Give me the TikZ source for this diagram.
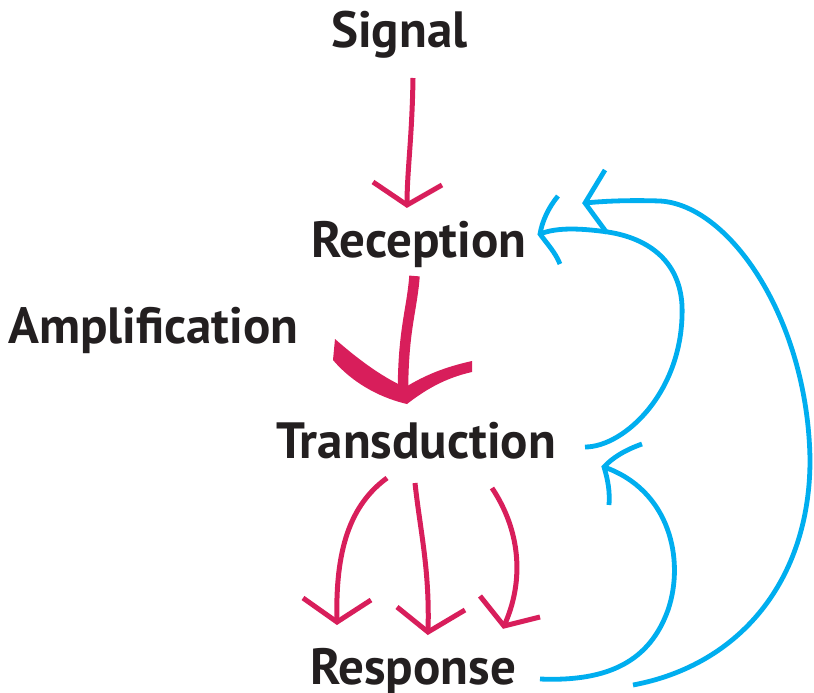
\documentclass[tikz,border=0pt]{standalone}
\usepackage{fontspec}
\setmainfont{PT Sans}
\definecolor{sigpink}{HTML}{D81E5B}
\definecolor{fbblue}{HTML}{00AEEF}
\definecolor{ink}{HTML}{231F20}
\tikzset{
  stage/.style={anchor=base west, inner sep=0pt, text=ink, font=\bfseries\fontsize{51}{55}\selectfont},
  pinkline/.style={draw=sigpink, line width=5pt},
  blueline/.style={draw=fbblue, line width=4.8pt},
}
\begin{document}
\begin{tikzpicture}[x=1pt, y=-1pt]
\useasboundingbox (0,0) rectangle (814,693);

% stage labels
\node[stage] (signal) at (331,48) {Signal};
\node[stage] (reception) at (311,257) {Reception};
\node[stage] (amplification) at (8,343) {Amplification};
\node[stage] (transduction) at (276,458) {Transduction};
\node[stage] (response) at (310,684) {Response};

% anchor points of the connectors
\coordinate (sigstart) at (413,78);
\coordinate (sigtip) at (407,205);
\coordinate (amptop) at (414.5,276);
\coordinate (amptip) at (407,404);
\coordinate (lstart) at (387,478);
\coordinate (ltip) at (337,622);
\coordinate (mstart) at (415,483);
\coordinate (mtip) at (428,632);
\coordinate (rstart) at (492,488);
\coordinate (rtip) at (504,626);
\coordinate (astart) at (585,447);
\coordinate (atip) at (540,234);
\coordinate (bstart) at (633,685);
\coordinate (btip) at (585,203);
\coordinate (cstart) at (540,679);
\coordinate (ctip) at (604,467);

% signal -> reception
\draw[pinkline] (sigstart) .. controls (412,140) and (407,170) .. (sigtip);
\draw[pinkline, line join=miter] (373,182) -- (sigtip) -- (442,185);

% amplification: thick arrow from reception to transduction
\draw[sigpink, line width=10.5pt] (amptop) .. controls (412,310) and (403,330) .. (403,392);
\fill[sigpink] (335,339) .. controls (360,361) and (385,379) .. (409,389)
  -- (amptip) .. controls (385,399) and (355,386) .. (333,360) -- cycle;
\fill[sigpink] (404,388) .. controls (425,375) and (445,367) .. (472,361)
  -- (472,372) .. controls (445,378) and (425,390) .. (amptip) -- cycle;

% transduction -> response, three branches
\draw[pinkline] (lstart) .. controls (350,505) and (335,550) .. (ltip);
\draw[pinkline, line join=miter] (303,598) -- (ltip) -- (371,600);
\draw[pinkline] (mstart) .. controls (420,530) and (430,570) .. (mtip);
\draw[pinkline, line join=miter] (397,607) -- (mtip) -- (465,610);
\draw[pinkline] (rstart) .. controls (520,530) and (525,580) .. (rtip);
\draw[pinkline, line join=miter] (480,596) -- (rtip) -- (540,617);

% feedback: transduction -> reception
\draw[blueline] (astart) .. controls (625,447) and (685,390) .. (682,305)
  .. controls (679,255) and (640,235) .. (600,231)
  .. controls (575,228) and (555,228) .. (atip);
\draw[blueline] (558,196) .. controls (548,208) and (542,222) .. (atip)
  .. controls (548,245) and (555,252) .. (560,264);

% feedback: response -> reception
\draw[blueline] (bstart) .. controls (740,665) and (810,580) .. (810,460)
  .. controls (808,320) and (730,205) .. (660,201)
  .. controls (630,200) and (605,201) .. (btip);
\draw[blueline, line join=miter] (605,170) -- (btip) -- (607,233);

% feedback: response -> transduction
\draw[blueline] (cstart) .. controls (610,682) and (650,660) .. (668,610)
  .. controls (685,560) and (670,490) .. (ctip);
\draw[blueline] (642,444) .. controls (625,450) and (612,458) .. (ctip)
  .. controls (608,480) and (610,492) .. (609,505);
\end{tikzpicture}
\end{document}
